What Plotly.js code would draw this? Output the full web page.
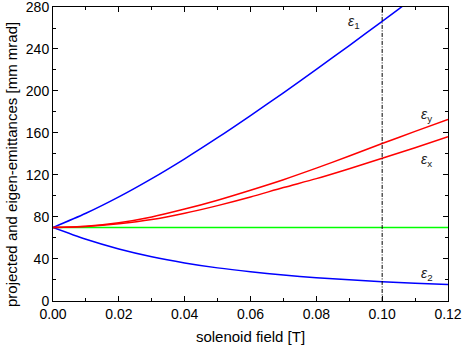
<!DOCTYPE html>
<html>
<head>
<meta charset="utf-8">
<script src="https://cdn.plot.ly/plotly-3.0.1.min.js"></script>
<style>html,body{margin:0;padding:0;background:#fff;}#chart{width:463px;height:348px;}</style>
</head>
<body>
<div id="chart"></div>
<script>
const field = [0, 0.01, 0.02, 0.03, 0.04, 0.05, 0.06, 0.07, 0.08, 0.09, 0.10, 0.11, 0.12];
const eps1 = [70, 83.5, 99.1, 116.5, 135.4, 155.5, 176.6, 198.3, 220.6, 243.3, 266.4, 289.7, 313.2];
const eps2 = [70, 58.7, 49.5, 42.1, 36.2, 31.5, 27.8, 24.7, 22.2, 20.1, 18.4, 16.9, 15.6];
const epsY = [70, 71.2, 74.5, 80, 87.5, 96, 105.5, 115.5, 126.5, 138, 150, 161.5, 173];
const epsX = [70, 71, 73.5, 77.5, 83.5, 90.8, 99, 108, 116.5, 126, 136, 146, 156.5];
const eps0 = [70, 70, 70, 70, 70, 70, 70, 70, 70, 70, 70, 70, 70];
const markerField = 0.10;
const yRange = [-0.05, 280];
const xRange = [0, 0.12];
const yTitle = 'projected and eigen-emittances [mm mrad]';
const xTitle = 'solenoid field [T]';

const lineTrace = (y, color) => ({
  x: field, y: y, type: 'scatter', mode: 'lines',
  line: {color: color, width: 1.5, shape: 'spline', smoothing: 0.8},
  hoverinfo: 'skip', showlegend: false
});

const data = [
  lineTrace(eps0, '#00ff00'),
  lineTrace(eps1, '#0000ff'),
  lineTrace(eps2, '#0000ff'),
  lineTrace(epsX, '#ff0000'),
  lineTrace(epsY, '#ff0000'),
  {x: [markerField, markerField], y: [0, 280], type: 'scatter', mode: 'lines',
   line: {color: '#000000', width: 1, dash: '4px,1.5px,1px,1.5px'}, hoverinfo: 'skip', showlegend: false}
];

const labelFont = {family: 'Liberation Sans, Arial, sans-serif', size: 14, color: '#222'};
const ann = (x, y, sub) => ({
  x: x, y: y, xref: 'x', yref: 'y', showarrow: false,
  text: '<i>ε</i><sub>' + sub + '</sub>', font: labelFont
});

const axisCommon = {
  showline: true, linecolor: '#000', linewidth: 1, mirror: 'ticks',
  ticks: 'inside', ticklen: 5, tickwidth: 1, tickcolor: '#000',
  showgrid: false, zeroline: false, ticklabeloverflow: 'allow',
  tickfont: {family: 'Liberation Sans, Arial, sans-serif', size: 14, color: '#000'}
};

const layout = {
  width: 463, height: 348,
  margin: {l: 53, r: 15, t: 7, b: 47},
  paper_bgcolor: '#fff', plot_bgcolor: '#fff',
  xaxis: Object.assign({}, axisCommon, {
    range: xRange, dtick: 0.02, tickformat: '.2f',
    minor: {dtick: 0.01, ticks: 'inside', ticklen: 3, tickcolor: '#000', showgrid: false},
    title: {text: xTitle, standoff: 10,
      font: {family: 'Liberation Sans, Arial, sans-serif', size: 15, color: '#000'}}
  }),
  yaxis: Object.assign({}, axisCommon, {
    range: yRange, tick0: 0, dtick: 40,
    minor: {tick0: 0, dtick: 20, ticks: 'inside', ticklen: 3, tickcolor: '#000', showgrid: false}
  }),
  annotations: [
    ann(0.0915, 266, '1'),
    ann(0.1135, 177, 'y'),
    ann(0.1135, 134, 'x'),
    ann(0.1135, 26, '2'),
    {xref: 'paper', yref: 'paper', x: -0.1038, y: 0.466, xanchor: 'center', yanchor: 'middle',
     textangle: -90, showarrow: false, text: yTitle,
     font: {family: 'Liberation Sans, Arial, sans-serif', size: 15, color: '#000'}}
  ]
};

Plotly.newPlot('chart', data, layout, {staticPlot: true, displayModeBar: false});
</script>
</body>
</html>
